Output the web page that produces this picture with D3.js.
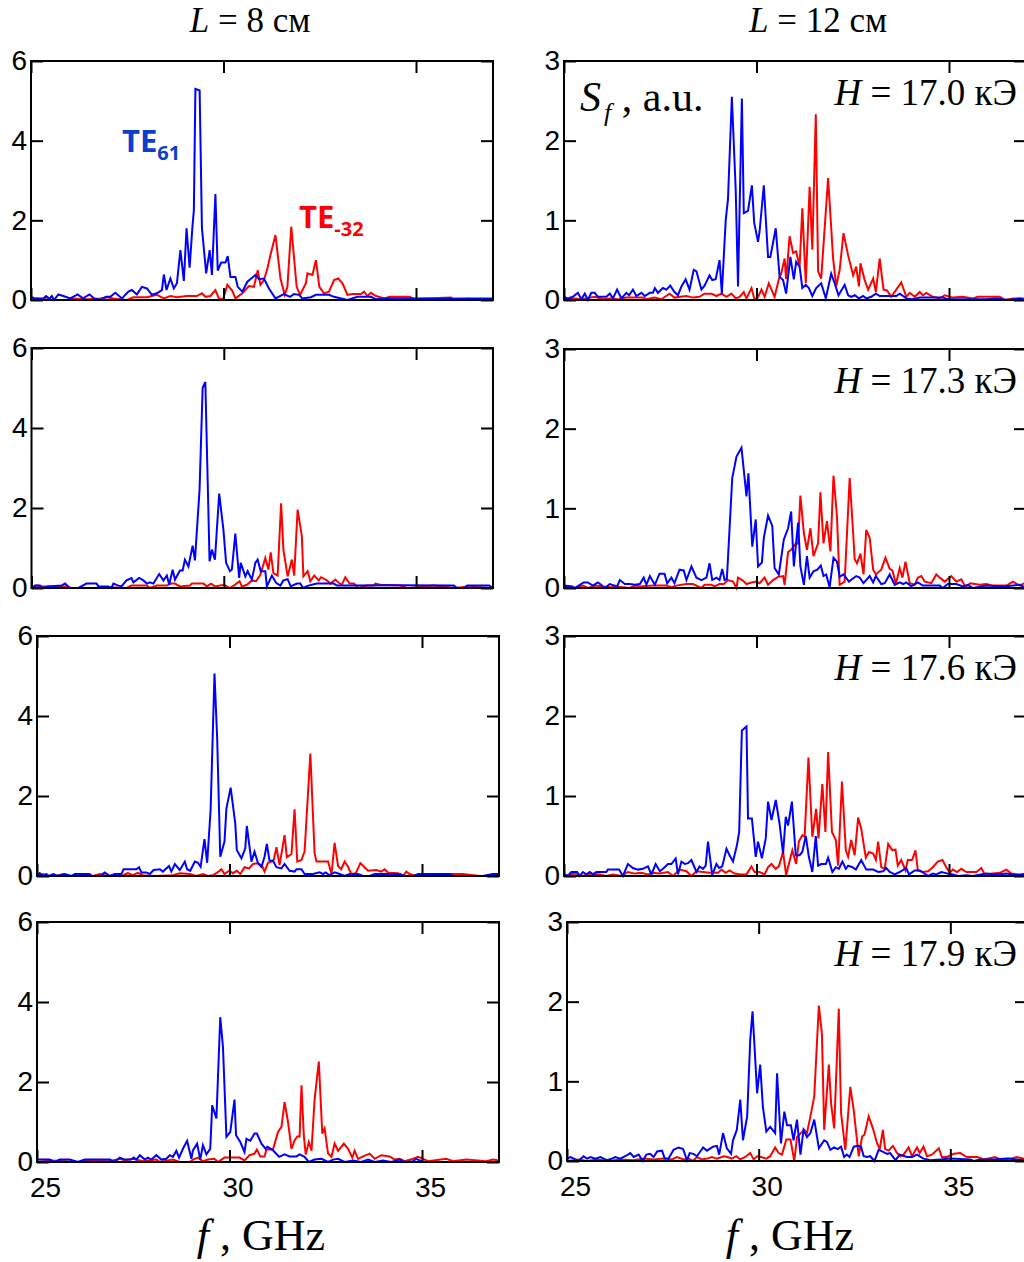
<!DOCTYPE html>
<html><head><meta charset="utf-8">
<script src="https://cdn.jsdelivr.net/npm/d3@7"></script>
<style>body{margin:0;background:#fff}svg{display:block}</style>
</head><body>
<svg id="c" width="1024" height="1262"></svg>
<script>
// ---------- data (frequency GHz, S_f a.u.) ----------
const xTicks = [25, 30, 35];
const yTicksL8 = [0, 2, 4, 6];
const yTicksL12 = [0, 1, 2, 3];
const columnTitles = ["8", "12"];          // L, см
const fieldLabels = ["17.0", "17.3", "17.6", "17.9"]; // H, кЭ

// L = 8 см
const te61_L8_H170 = [[25.0,0.08],[25.1,0.04],[25.32,0.04],[25.39,0.1],[25.48,0.03],[25.54,0.1],[25.6,0],[25.71,0.14],[25.84,0.1],[26.02,0.04],[26.21,0.14],[26.35,0.04],[26.52,0.14],[26.64,0.04],[26.8,0],[26.95,0.08],[27.06,0.08],[27.19,0.18],[27.36,0.04],[27.53,0.21],[27.62,0.25],[27.75,0.14],[27.88,0.33],[28.01,0.29],[28.14,0.13],[28.27,0.17],[28.4,0.25],[28.45,0.64],[28.52,0.25],[28.62,0.54],[28.71,0.29],[28.79,0.42],[28.88,1.25],[28.97,0.48],[29.04,1.8],[29.12,0.81],[29.19,1.8],[29.23,2.25],[29.27,5.3],[29.38,5.26],[29.44,1.8],[29.55,0.67],[29.64,1.25],[29.7,0.63],[29.79,2.66],[29.85,0.74],[29.94,0.94],[30.05,0.94],[30.11,1.1],[30.18,0.58],[30.31,0.58],[30.37,0.33],[30.49,0.21],[30.62,0.46],[30.72,0.54],[30.83,0.63],[30.92,0.52],[31.05,0.54],[31.18,0.29],[31.35,0.04],[31.57,0.15],[31.73,0.08],[31.83,0.15],[31.96,0.13],[32.05,0.04],[32.27,0.07],[32.4,0.13],[32.74,0.13],[32.87,0.08],[33.22,0],[33.48,0.08],[33.83,0.08],[33.96,0.02],[34.26,0.04],[35.0,0.04],[35.48,0.03],[36.35,0.04],[37,0.04]];
const te32_L8_H170 = [[25.0,0],[25.15,0.04],[25.32,0.02],[25.4,0.07],[25.5,0],[25.93,0],[26.1,0.04],[26.45,0.02],[26.8,0.04],[26.97,0.07],[27.14,0.04],[27.49,0],[27.66,0.07],[28.01,0.07],[28.27,0.13],[28.45,0.04],[28.62,0.1],[28.79,0.07],[29.05,0.1],[29.31,0.1],[29.44,0.17],[29.53,0.08],[29.66,0.1],[29.79,0.25],[29.88,0.04],[29.99,0.02],[30.1,0.38],[30.23,0.23],[30.31,0.04],[30.49,0.17],[30.66,0.35],[30.79,0.33],[30.89,0.75],[30.96,0.38],[31.05,0.5],[31.14,0.79],[31.22,1.13],[31.35,1.63],[31.48,0.54],[31.59,0.13],[31.66,0.33],[31.76,1.84],[31.9,0.33],[31.99,0.13],[32.14,0.42],[32.18,0.67],[32.31,0.63],[32.4,1.0],[32.49,0.33],[32.61,0.17],[32.74,0.21],[32.87,0.5],[32.98,0.54],[33.09,0.42],[33.22,0.13],[33.35,0.15],[33.57,0.15],[33.65,0.21],[33.74,0.1],[33.83,0.18],[33.96,0.1],[34.18,0.04],[34.31,0.08],[34.83,0.08],[34.96,0.02],[35.22,0.04],[35.91,0.06],[36.0,0],[36.35,0.03],[37,0]];

const te61_L8_H173 = [[25,0],[25.09,0.06],[25.22,0.06],[25.26,0],[25.43,0.04],[25.78,0.06],[25.87,0.11],[26.0,0],[26.22,0],[26.43,0.11],[26.69,0.11],[26.74,0.04],[27.0,0.04],[27.08,0],[27.13,0.11],[27.26,0.06],[27.34,0.04],[27.47,0.19],[27.6,0.25],[27.65,0.14],[27.8,0.25],[27.91,0.19],[28.0,0.11],[28.08,0.14],[28.17,0.11],[28.32,0.35],[28.43,0.19],[28.52,0.31],[28.58,0.08],[28.67,0.46],[28.73,0.21],[28.86,0.44],[28.93,0.44],[28.99,0.71],[29.08,0.54],[29.19,1.06],[29.25,0.69],[29.37,2.46],[29.45,5.0],[29.52,5.15],[29.63,0.67],[29.69,0.96],[29.77,0.71],[29.88,2.36],[29.99,1.46],[30.06,0.63],[30.16,0.42],[30.21,0.46],[30.3,1.36],[30.4,0.25],[30.44,0.63],[30.56,0.29],[30.62,0.42],[30.73,0.21],[30.82,0.63],[30.88,0.71],[30.96,0.42],[31.08,0.42],[31.12,0.04],[31.25,0.31],[31.36,0.13],[31.47,0.06],[31.55,0.19],[31.66,0.22],[31.74,0.04],[31.9,0.11],[31.99,0.11],[32.06,0],[32.2,0.06],[32.42,0.11],[32.86,0.11],[32.94,0.06],[33.38,0.06],[34.5,0.07],[35.98,0.06],[36.07,0],[36.24,0],[36.33,0.06],[36.9,0.06],[37,0]];
const te32_L8_H173 = [[25,0],[25.13,0.06],[25.3,0.04],[25.91,0.04],[26.04,0],[26.78,0],[27.04,0.02],[27.47,0],[27.6,0.06],[28.0,0.06],[28.08,0],[28.26,0.06],[28.52,0.06],[28.62,0.11],[28.73,0.11],[28.86,0.04],[29.12,0.06],[29.17,0.11],[29.47,0.11],[29.56,0.04],[29.67,0.11],[29.77,0.04],[30.01,0.08],[30.15,0],[30.26,0.06],[30.41,0.17],[30.47,0.04],[30.6,0.08],[30.73,0.19],[30.84,0.17],[30.95,0.33],[31.08,0.75],[31.16,0.46],[31.22,0.89],[31.29,0.37],[31.4,0.31],[31.49,2.12],[31.55,0.96],[31.66,0.29],[31.77,0.71],[31.83,0.31],[31.92,1.96],[32.03,1.29],[32.07,0.29],[32.18,0.42],[32.25,0.17],[32.35,0.31],[32.47,0.19],[32.53,0.27],[32.68,0.19],[32.77,0.11],[32.9,0.21],[32.99,0.13],[33.07,0.08],[33.16,0.27],[33.27,0.11],[33.38,0.11],[33.51,0],[33.72,0.06],[33.9,0.06],[33.94,0.11],[34.07,0.08],[34.59,0.06],[34.77,0],[35.03,0.02],[35.46,0.06],[36.02,0],[36.33,0.04],[37,0]];

const te61_L8_H176 = [[25,0],[25.07,0.07],[25.16,0],[25.24,0.05],[25.31,0],[25.42,0.05],[25.55,0],[25.72,0.05],[25.89,0],[25.98,0.05],[26.37,0.05],[26.41,0],[26.63,0],[26.76,0.09],[26.89,0],[27.02,0.05],[27.19,0.05],[27.25,0.17],[27.58,0.17],[27.65,0.22],[27.71,0.09],[27.84,0.09],[27.93,0.05],[28.03,0.15],[28.19,0.17],[28.27,0.11],[28.43,0.25],[28.49,0.11],[28.58,0.3],[28.71,0.15],[28.84,0.36],[28.9,0.17],[28.98,0.13],[29.1,0.36],[29.18,0.33],[29.25,0.23],[29.35,0.92],[29.42,0.33],[29.51,1.66],[29.61,5.06],[29.68,3.44],[29.76,0.48],[29.87,0.86],[29.92,1.69],[30.03,2.21],[30.15,1.31],[30.19,0.65],[30.31,0.44],[30.41,0.69],[30.45,1.25],[30.57,0.36],[30.65,0.61],[30.74,0.32],[30.83,0.23],[30.91,0.48],[30.97,0.8],[31.04,0.38],[31.13,0.38],[31.22,0.22],[31.35,0.19],[31.43,0.3],[31.56,0.13],[31.69,0.11],[31.74,0.17],[31.87,0.17],[31.95,0.05],[32.17,0.05],[32.34,0.09],[32.43,0.05],[32.5,0.09],[32.6,0.02],[32.73,0.09],[32.86,0.05],[32.99,0],[33.12,0.05],[33.34,0.05],[33.47,0],[33.64,0],[33.77,0.05],[34.42,0.05],[34.55,0],[34.77,0],[34.9,0.05],[35.72,0.05],[35.81,0],[36.58,0],[36.84,0.05],[37,0.05]];
const te32_L8_H176 = [[25,0],[25.16,0.05],[25.29,0],[25.5,0],[25.68,0.05],[25.85,0],[26.11,0],[26.28,0.05],[26.45,0],[26.63,0.05],[26.84,0],[27.23,0.02],[27.36,0.07],[27.49,0.02],[27.62,0.08],[27.75,0.02],[28.1,0],[28.53,0.02],[28.71,0.07],[28.97,0.05],[29.14,0],[29.31,0.05],[29.44,0],[29.57,0.02],[29.66,0.07],[29.79,0.17],[29.87,0.05],[29.99,0.13],[30.09,0.07],[30.19,0.13],[30.28,0.05],[30.39,0.22],[30.51,0.19],[30.61,0.3],[30.74,0.32],[30.85,0.25],[30.91,0.11],[31.0,0.33],[31.09,0.36],[31.15,0.4],[31.22,0.72],[31.3,0.27],[31.43,1.02],[31.49,0.47],[31.61,0.55],[31.69,1.67],[31.76,0.36],[31.87,0.4],[31.95,0.61],[32.1,3.06],[32.21,0.57],[32.26,0.36],[32.56,0.36],[32.65,0.05],[32.73,0.83],[32.82,0.25],[32.9,0.17],[32.99,0.36],[33.08,0.23],[33.16,0.05],[33.28,0.07],[33.4,0.32],[33.51,0.22],[33.6,0.13],[33.81,0.15],[33.94,0.11],[34.03,0.17],[34.12,0.08],[34.38,0.07],[34.51,0],[34.59,0.11],[34.68,0.05],[34.85,0],[35.29,0.05],[35.42,0],[35.55,0.05],[36.07,0.05],[36.5,0],[37,0]];

const te61_L8_H179 = [[25,0.06],[25.33,0.06],[25.46,0],[25.59,0.06],[25.85,0.06],[26.06,0],[26.24,0.06],[26.89,0.06],[27.02,0],[27.15,0.11],[27.28,0.06],[27.45,0.06],[27.51,0.11],[27.58,0.06],[27.67,0.17],[27.8,0.06],[27.88,0.11],[27.97,0.06],[28.1,0.17],[28.23,0.06],[28.36,0.08],[28.45,0.17],[28.53,0.13],[28.62,0.28],[28.69,0.11],[28.79,0.33],[28.9,0.53],[29.01,0.08],[29.05,0.29],[29.16,0.46],[29.24,0.06],[29.31,0.42],[29.4,0.19],[29.5,0.33],[29.55,1.42],[29.66,1.09],[29.76,3.62],[29.83,2.88],[29.92,0.63],[30.02,0.75],[30.13,1.56],[30.17,0.67],[30.28,0.5],[30.39,0.25],[30.44,0.58],[30.54,0.53],[30.65,0.71],[30.71,0.71],[30.83,0.46],[30.94,0.33],[30.98,0.38],[31.11,0.31],[31.17,0.25],[31.29,0.13],[31.43,0.19],[31.56,0.14],[31.74,0.14],[31.82,0.19],[31.95,0.13],[32.06,0],[32.21,0.06],[32.39,0.08],[32.56,0],[32.69,0.06],[32.82,0.08],[32.99,0],[33.21,0.04],[33.42,0],[33.6,0.06],[33.77,0],[33.99,0.04],[34.2,0],[34.42,0.06],[34.55,0],[34.77,0.02],[34.85,0.08],[35.03,0],[37,0]];
const te32_L8_H179 = [[25,0],[25.33,0.04],[25.76,0.02],[26.11,0],[26.28,0.04],[26.89,0.02],[27.15,0.08],[27.28,0.04],[27.49,0.08],[27.75,0.02],[28.1,0.06],[28.19,0],[28.53,0.06],[28.71,0],[28.97,0],[29.05,0.06],[29.18,0.11],[29.31,0.02],[29.44,0.06],[29.61,0.08],[29.7,0],[29.87,0.11],[30.0,0.11],[30.26,0.11],[30.39,0.04],[30.52,0.17],[30.65,0.21],[30.71,0.31],[30.8,0.14],[30.91,0.14],[30.96,0.31],[31.13,0.31],[31.26,0.75],[31.35,0.88],[31.43,1.5],[31.52,1.0],[31.61,0.33],[31.69,0.54],[31.76,0.64],[31.82,0.64],[31.87,1.92],[31.93,0.67],[31.98,0.19],[32.06,0.5],[32.13,0.28],[32.21,1.56],[32.32,2.51],[32.41,0.71],[32.47,0.84],[32.56,0.21],[32.65,0.13],[32.73,0.46],[32.82,0.28],[32.97,0.46],[33.08,0.33],[33.19,0.11],[33.25,0.28],[33.34,0.08],[33.47,0.14],[33.64,0.21],[33.77,0.08],[33.94,0.17],[34.16,0.14],[34.29,0.06],[34.42,0.08],[34.55,0.02],[34.77,0.08],[34.9,0.13],[35.03,0.08],[35.16,0.02],[35.63,0.08],[35.81,0.02],[36.15,0.06],[36.67,0.02],[36.84,0.06],[37,0.04]];

// L = 12 см
const te61_L12_H170 = [[25,0.04],[25.1,0.02],[25.23,0.04],[25.36,0.09],[25.45,0.01],[25.54,0.08],[25.62,0],[25.71,0.09],[25.8,0.09],[25.88,0.04],[26.1,0.04],[26.19,0.08],[26.27,0.02],[26.38,0.13],[26.49,0.02],[26.62,0.09],[26.69,0.06],[26.79,0.13],[26.88,0.05],[27.01,0.09],[27.1,0.05],[27.23,0.09],[27.31,0.09],[27.36,0.15],[27.44,0.09],[27.57,0.15],[27.66,0.13],[27.76,0.18],[27.87,0.1],[27.96,0.06],[28.05,0.17],[28.16,0.26],[28.26,0.13],[28.37,0.38],[28.44,0.36],[28.57,0.13],[28.65,0.18],[28.78,0.31],[28.85,0.25],[28.94,0.26],[29.04,0.5],[29.1,0.08],[29.2,1.0],[29.26,1.27],[29.36,2.55],[29.46,1.38],[29.52,0.17],[29.62,2.53],[29.67,1.09],[29.78,1.12],[29.88,1.44],[29.94,0.97],[30.04,0.73],[30.08,0.86],[30.19,1.44],[30.3,0.54],[30.36,0.54],[30.5,0.9],[30.6,0.29],[30.69,0.25],[30.77,0.08],[30.88,0.54],[30.97,0.26],[31.03,0.48],[31.12,0.42],[31.19,0.15],[31.28,0.19],[31.36,0.15],[31.45,0.05],[31.55,0.15],[31.68,0.21],[31.8,0.02],[31.94,0.33],[32.03,0.21],[32.13,0.06],[32.29,0.19],[32.38,0.06],[32.46,0.04],[32.55,0.06],[32.66,0.02],[32.77,0.05],[32.85,0.02],[32.98,0.04],[33.1,0.08],[33.2,0.05],[33.63,0.05],[33.72,0.08],[33.89,0.02],[34.06,0.01],[34.24,0.03],[34.67,0.03],[34.84,0.03],[34.97,0.01],[35.97,0.01],[36.23,0.02],[36.53,0],[36.84,0.02],[37,0]];
const te32_L12_H170 = [[25,0.02],[25.15,0.01],[25.28,0.02],[25.45,0.01],[25.8,0.04],[26.01,0.01],[26.19,0.02],[26.4,0.01],[26.62,0.03],[27.05,0.03],[27.14,0.01],[27.35,0.03],[27.53,0.01],[27.74,0.08],[27.87,0.03],[28.18,0.05],[28.35,0.03],[28.52,0.04],[28.65,0.08],[28.83,0.08],[28.96,0.05],[29.09,0.08],[29.22,0.04],[29.35,0.08],[29.46,0.02],[29.56,0.04],[29.67,0.1],[29.74,0.02],[29.87,0.15],[29.95,0],[30.04,0.04],[30.13,0.13],[30.21,0.04],[30.32,0.21],[30.47,0.04],[30.58,0.26],[30.64,0.33],[30.73,0.52],[30.77,0.26],[30.86,0.8],[30.95,0.59],[31.03,0.61],[31.12,0.42],[31.19,1.15],[31.28,0.21],[31.38,1.42],[31.45,0.63],[31.54,2.33],[31.6,0.36],[31.68,0.27],[31.86,1.53],[31.99,0.52],[32.07,0.17],[32.16,0.38],[32.26,0.84],[32.38,0.56],[32.51,0.31],[32.59,0.42],[32.66,0.17],[32.7,0.46],[32.81,0.25],[32.9,0.13],[33.03,0.27],[33.1,0.1],[33.2,0.52],[33.3,0.13],[33.39,0.12],[33.5,0.04],[33.63,0.13],[33.76,0.22],[33.89,0.04],[33.98,0.09],[34.11,0.04],[34.24,0.1],[34.32,0.06],[34.41,0.09],[34.58,0.04],[34.76,0.02],[34.89,0.06],[35.1,0.03],[35.36,0.04],[35.62,0.02],[35.75,0.04],[36.32,0.04],[36.45,0],[36.66,0.02],[37,0.02]];

const te61_L12_H173 = [[25,0.03],[25.22,0.02],[25.28,0],[25.51,0.07],[25.62,0.07],[25.75,0.03],[25.88,0.07],[25.94,0.05],[26.06,0],[26.19,0.05],[26.32,0.03],[26.38,0.02],[26.45,0.1],[26.58,0.05],[26.71,0.05],[26.84,0.04],[26.97,0.05],[27.07,0.13],[27.14,0.04],[27.23,0.15],[27.36,0.04],[27.48,0.18],[27.61,0.18],[27.68,0.06],[27.79,0.13],[27.87,0.06],[28.0,0.23],[28.11,0.22],[28.18,0.1],[28.31,0.27],[28.44,0.13],[28.57,0.1],[28.7,0.13],[28.78,0.31],[28.85,0.1],[28.96,0.13],[29.04,0.1],[29.11,0.24],[29.17,0.1],[29.23,0.11],[29.37,1.38],[29.48,1.65],[29.61,1.76],[29.74,1.15],[29.79,1.44],[29.89,0.52],[29.98,0.86],[30.04,0.27],[30.14,0.32],[30.19,0.63],[30.3,0.91],[30.41,0.78],[30.47,0.25],[30.58,0.17],[30.71,0.61],[30.82,0.75],[30.9,0.96],[30.97,0.27],[31.08,0.82],[31.14,0.27],[31.23,0.04],[31.31,0.4],[31.38,0.13],[31.48,0.21],[31.58,0.23],[31.67,0.28],[31.74,0.15],[31.81,0.17],[31.9,0.01],[32.0,0.38],[32.09,0.33],[32.16,0.14],[32.26,0.17],[32.4,0.08],[32.59,0.15],[32.68,0.13],[32.78,0.06],[32.94,0.15],[33.03,0.07],[33.1,0.15],[33.24,0.05],[33.33,0.06],[33.46,0.17],[33.59,0.04],[33.72,0.07],[33.81,0.05],[33.89,0.07],[34.02,0.02],[34.19,0.07],[34.32,0.03],[34.76,0.03],[34.84,0],[34.97,0.05],[35.19,0.05],[35.36,0.02],[35.49,0.04],[35.62,0],[35.97,0.03],[36.4,0.02],[36.84,0.04],[37,0]];
const te32_L12_H173 = [[25,0],[25.1,0.02],[25.28,0],[25.49,0.03],[25.62,0],[25.84,0.03],[26.01,0.02],[26.23,0.01],[26.36,0.02],[26.71,0],[26.84,0.03],[26.97,0.02],[27.31,0.03],[27.66,0.03],[27.79,0.01],[27.92,0.03],[28.18,0.05],[28.35,0.05],[28.57,0],[28.65,0.04],[28.83,0.04],[28.91,0.02],[29.04,0.05],[29.15,0.05],[29.26,0.1],[29.39,0.08],[29.48,0],[29.52,0.13],[29.63,0.1],[29.74,0.05],[29.87,0.07],[29.99,0.08],[30.08,0.06],[30.21,0.13],[30.3,0.04],[30.43,0.1],[30.56,0.14],[30.69,0.15],[30.73,0.04],[30.82,0.45],[30.9,0.48],[31.02,0.56],[31.08,0.56],[31.14,1.16],[31.23,0.69],[31.31,0.48],[31.4,0.75],[31.48,0.4],[31.6,0.56],[31.66,1.2],[31.74,0.56],[31.83,0.84],[31.92,0.46],[32.0,1.41],[32.09,0.9],[32.16,0.04],[32.29,0.08],[32.42,1.38],[32.51,0.69],[32.55,0.36],[32.61,0.31],[32.7,0.43],[32.78,0.17],[32.85,0.73],[32.94,0.63],[33.03,0.23],[33.1,0.17],[33.24,0.23],[33.35,0.38],[33.46,0.24],[33.53,0.22],[33.62,0.05],[33.72,0.25],[33.79,0.13],[33.87,0.33],[33.98,0.06],[34.11,0.04],[34.19,0.13],[34.28,0.15],[34.37,0.08],[34.54,0.06],[34.67,0.17],[34.76,0.13],[34.89,0.08],[35.06,0.15],[35.19,0.08],[35.32,0.11],[35.43,0.01],[35.55,0.06],[35.8,0.04],[35.97,0.05],[36.14,0.03],[36.49,0.03],[36.66,0.08],[36.84,0.03],[37,0.07]];

const te61_L12_H176 = [[25,0.02],[25.1,0],[25.19,0.05],[25.34,0.05],[25.41,0],[25.49,0.05],[25.58,0.02],[25.67,0.05],[25.75,0.02],[25.84,0.05],[26.1,0.05],[26.14,0.08],[26.43,0.08],[26.53,0],[26.66,0.15],[26.79,0.1],[26.92,0.08],[27.05,0.09],[27.18,0.12],[27.27,0.02],[27.38,0.15],[27.49,0.06],[27.57,0.09],[27.7,0.15],[27.79,0.15],[27.9,0.22],[27.96,0.02],[28.05,0.18],[28.14,0.15],[28.22,0.16],[28.31,0.2],[28.44,0.05],[28.52,0.12],[28.61,0.09],[28.68,0.13],[28.74,0.43],[28.85,0.01],[28.96,0.15],[29.03,0.1],[29.11,0.12],[29.22,0.34],[29.3,0.26],[29.39,0.18],[29.49,0.38],[29.55,0.55],[29.62,1.82],[29.74,1.87],[29.78,0.72],[29.88,0.72],[29.98,0.24],[30.04,0.43],[30.14,0.22],[30.24,0.47],[30.3,0.93],[30.39,0.7],[30.5,0.95],[30.6,0.65],[30.69,0.28],[30.76,0.74],[30.82,0.63],[30.92,0.93],[31.02,0.26],[31.12,0.26],[31.19,0.3],[31.28,0.5],[31.36,0.24],[31.45,0.05],[31.54,0.5],[31.6,0.13],[31.68,0.15],[31.8,0.15],[31.86,0.23],[31.97,0.05],[32.06,0.11],[32.14,0.09],[32.23,0.18],[32.32,0.09],[32.38,0.13],[32.49,0.11],[32.58,0.08],[32.72,0.2],[32.85,0.08],[33.03,0.08],[33.16,0.05],[33.29,0.06],[33.37,0.1],[33.46,0.05],[33.59,0.02],[33.72,0.05],[33.89,0.1],[33.96,0.02],[34.11,0.07],[34.24,0.07],[34.46,0],[34.58,0.03],[34.67,0.02],[34.8,0.05],[34.97,0.03],[35.1,0.02],[35.23,0],[35.45,0.01],[35.62,0],[35.97,0.03],[36.23,0.02],[36.49,0.03],[36.75,0.01],[37,0.03]];
const te32_L12_H176 = [[25,0],[25.15,0.02],[25.32,0.03],[25.49,0],[25.67,0.03],[25.93,0.02],[26.1,0],[26.27,0.02],[26.49,0],[26.66,0.05],[26.84,0.03],[27.01,0.04],[27.18,0.02],[27.31,0.04],[27.48,0.03],[27.7,0.05],[27.83,0],[28.0,0.08],[28.18,0.06],[28.31,0],[28.44,0.06],[28.61,0.05],[28.78,0.04],[28.91,0.04],[29.0,0.04],[29.09,0.08],[29.2,0.04],[29.3,0.07],[29.43,0.03],[29.61,0.02],[29.74,0.02],[29.87,0.12],[29.95,0.05],[30.08,0.05],[30.21,0.02],[30.3,0.11],[30.39,0.15],[30.5,0.09],[30.58,0.12],[30.69,0.3],[30.77,0.01],[30.84,0.15],[30.93,0.32],[31.03,0.15],[31.1,0.43],[31.19,0.51],[31.25,0.49],[31.35,1.48],[31.45,0.49],[31.55,0.84],[31.61,0.47],[31.71,1.15],[31.79,0.55],[31.86,1.55],[31.96,0.55],[32.06,0.45],[32.12,0.13],[32.22,1.18],[32.32,0.32],[32.38,0.24],[32.46,0.45],[32.55,0.26],[32.64,0.73],[32.72,0.59],[32.84,0.23],[32.92,0.3],[33.03,0.28],[33.1,0.2],[33.16,0.43],[33.24,0.11],[33.33,0.09],[33.42,0.4],[33.53,0.32],[33.61,0.33],[33.67,0.13],[33.76,0.2],[33.87,0.07],[33.93,0.2],[34.04,0.2],[34.13,0.32],[34.19,0.07],[34.32,0.05],[34.46,0.06],[34.58,0.11],[34.71,0.18],[34.83,0.2],[34.93,0.11],[35.02,0.04],[35.1,0.08],[35.21,0.05],[35.32,0.09],[35.45,0.05],[35.71,0.05],[35.84,0.1],[35.93,0.02],[36.14,0.03],[36.32,0.04],[36.49,0.08],[36.62,0.03],[36.8,0.02],[37,0.01]];

const te61_L12_H179 = [[25,0.03],[25.09,0.05],[25.22,0.02],[25.3,0],[25.43,0.06],[25.52,0.03],[25.61,0.05],[25.74,0.03],[25.87,0.05],[26.04,0.01],[26.17,0.03],[26.26,0.05],[26.39,0.03],[26.52,0.06],[26.65,0.1],[26.74,0.05],[26.87,0.08],[26.98,0],[27.07,0.08],[27.17,0.09],[27.26,0.05],[27.35,0.12],[27.48,0.13],[27.55,0.03],[27.65,0.03],[27.78,0.14],[27.91,0.17],[28.03,0.15],[28.13,0.01],[28.2,0.1],[28.3,0.09],[28.39,0.06],[28.55,0.17],[28.65,0.13],[28.81,0.18],[28.91,0.19],[28.97,0.08],[29.07,0.35],[29.17,0.16],[29.28,0.09],[29.33,0.26],[29.43,0.39],[29.52,0.77],[29.59,0.26],[29.7,0.56],[29.78,1.52],[29.84,1.88],[29.96,0.85],[30.04,1.21],[30.11,0.68],[30.2,0.37],[30.3,0.43],[30.43,0.35],[30.48,1.1],[30.58,0.22],[30.67,0.62],[30.74,0.45],[30.84,0.45],[30.91,0.26],[31.0,0.52],[31.09,0.08],[31.17,0.39],[31.26,0.3],[31.35,0.35],[31.45,0.52],[31.57,0.16],[31.71,0.26],[31.78,0.24],[31.87,0.14],[31.97,0.17],[32.06,0.15],[32.15,0.18],[32.23,0.05],[32.3,0.08],[32.37,0.05],[32.48,0.18],[32.58,0.19],[32.67,0.18],[32.74,0.06],[32.83,0.05],[32.91,0.06],[33.02,0],[33.13,0.14],[33.22,0.12],[33.35,0.09],[33.43,0.1],[33.57,0.01],[33.68,0.08],[33.87,0.05],[34.0,0.05],[34.13,0.08],[34.3,0.03],[34.48,0.01],[34.74,0.02],[35.0,0.03],[35.52,0.02],[35.61,0],[35.78,0.02],[36.13,0.02],[36.48,0.03],[36.74,0.02],[37,0.01]];
const te32_L12_H179 = [[25,0],[25.17,0.01],[25.3,0.02],[25.52,0],[25.78,0.02],[26.09,0],[26.39,0.02],[26.74,0.01],[27.0,0.03],[27.26,0.02],[27.52,0.03],[27.74,0.02],[27.87,0.05],[28.04,0.02],[28.17,0.03],[28.29,0],[28.39,0.05],[28.52,0.02],[28.65,0.03],[28.78,0.05],[28.91,0.03],[29.09,0.06],[29.19,0.05],[29.3,0.03],[29.42,0.06],[29.52,0.02],[29.65,0.05],[29.78,0.1],[29.87,0.02],[29.96,0.06],[30.06,0.05],[30.2,0.03],[30.3,0.06],[30.43,0.17],[30.52,0.1],[30.61,0.08],[30.72,0.27],[30.83,0.27],[30.93,0],[31.0,0.3],[31.1,0.35],[31.19,0.39],[31.26,0.35],[31.35,0.56],[31.45,0.81],[31.57,1.95],[31.65,1.6],[31.71,0.39],[31.83,1.21],[31.89,0.72],[31.97,0.41],[32.09,1.91],[32.15,0.6],[32.26,0.14],[32.39,0.93],[32.48,0.64],[32.61,0.06],[32.7,0.31],[32.76,0.33],[32.87,0.56],[32.98,0.41],[33.09,0.22],[33.16,0.15],[33.24,0.39],[33.3,0.15],[33.39,0.13],[33.5,0.19],[33.61,0.1],[33.7,0.06],[33.78,0.08],[33.91,0.17],[34.0,0.06],[34.13,0.17],[34.2,0.1],[34.3,0.18],[34.39,0.06],[34.52,0.08],[34.7,0.16],[34.78,0.05],[34.91,0.05],[35.09,0.09],[35.26,0.1],[35.43,0.05],[35.7,0.05],[35.87,0.02],[36.17,0.05],[36.3,0.02],[36.57,0.03],[36.74,0.05],[37,0.02]];

// ---------- layout ----------
const panels = [
  {col:0,row:0,x0:31,  x1:493, y0:61, y1:300, ymax:6, yt:yTicksL8,  b:te61_L8_H170,  r:te32_L8_H170},
  {col:0,row:1,x0:31.5,x1:493, y0:348,y1:588, ymax:6, yt:yTicksL8,  b:te61_L8_H173,  r:te32_L8_H173},
  {col:0,row:2,x0:37,  x1:499, y0:636,y1:876, ymax:6, yt:yTicksL8,  b:te61_L8_H176,  r:te32_L8_H176},
  {col:0,row:3,x0:37,  x1:499, y0:922,y1:1162,ymax:6, yt:yTicksL8,  b:te61_L8_H179,  r:te32_L8_H179},
  {col:1,row:0,x0:564, x1:1026,y0:61, y1:300, ymax:3, yt:yTicksL12, b:te61_L12_H170, r:te32_L12_H170},
  {col:1,row:1,x0:564, x1:1026,y0:349,y1:588, ymax:3, yt:yTicksL12, b:te61_L12_H173, r:te32_L12_H173},
  {col:1,row:2,x0:564, x1:1026,y0:636,y1:876, ymax:3, yt:yTicksL12, b:te61_L12_H176, r:te32_L12_H176},
  {col:1,row:3,x0:567, x1:1027,y0:922,y1:1161,ymax:3, yt:yTicksL12, b:te61_L12_H179, r:te32_L12_H179}
];

const svg = d3.select('#c');
const SANS = '"Liberation Sans", Arial, sans-serif';
const SERIF = '"Liberation Serif", "Times New Roman", serif';

function styleAxis(g){
  g.select('.domain').remove();
  g.selectAll('.tick line').attr('stroke','#000').attr('stroke-width',2);
  g.selectAll('text').attr('fill','#000').style('font-family',SANS).style('font-size','28px');
}

panels.forEach(p => {
  const x = d3.scaleLinear().domain([25,37]).range([p.x0,p.x1]);
  const y = d3.scaleLinear().domain([0,p.ymax]).range([p.y1,p.y0]);
  const g = svg.append('g');
  const line = d3.line().x(d => x(d[0])).y(d => y(d[1]));

  g.append('path').datum(p.r).attr('d',line).attr('fill','none')
    .attr('stroke','#ff0000').attr('stroke-width',2).attr('stroke-linejoin','miter');
  g.append('path').datum(p.b).attr('d',line).attr('fill','none')
    .attr('stroke','#0000ff').attr('stroke-width',2).attr('stroke-linejoin','miter');

  g.append('g').attr('transform',`translate(${p.x0},0)`)
    .call(d3.axisLeft(y).tickValues(p.yt).tickSize(-12).tickPadding(4).tickFormat(d3.format('d')))
    .call(styleAxis);
  g.append('g').attr('transform',`translate(${p.x1},0)`)
    .call(d3.axisRight(y).tickValues(p.yt).tickSize(-12).tickFormat(''))
    .call(styleAxis);
  g.append('g').attr('transform',`translate(0,${p.y0})`)
    .call(d3.axisTop(x).tickValues(xTicks).tickSize(-12).tickFormat(''))
    .call(styleAxis);
  const bx = g.append('g').attr('transform',`translate(0,${p.y1})`)
    .call(d3.axisBottom(x).tickValues(xTicks).tickSize(-12).tickPadding(15)
      .tickFormat(p.row === 3 ? d3.format('d') : ''))
    .call(styleAxis);
  bx.selectAll('text').attr('dx',8);

  g.append('rect').attr('x',p.x0).attr('y',p.y0).attr('width',p.x1-p.x0).attr('height',p.y1-p.y0)
    .attr('fill','none').attr('stroke','#000').attr('stroke-width',2);

  if (p.col === 1) {
    const t = g.append('text').attr('x',1017).attr('y',p.y0+44).attr('text-anchor','end')
      .style('font-family',SERIF).style('font-size','37px').attr('fill','#000');
    t.append('tspan').style('font-style','italic').text('H');
    t.append('tspan').text(' = ' + fieldLabels[p.row] + ' кЭ');
  }
});

// column titles
[[250, columnTitles[0]],[818, columnTitles[1]]].forEach(([cx,v]) => {
  const t = svg.append('text').attr('x',cx).attr('y',32).attr('text-anchor','middle')
    .style('font-family',SERIF).style('font-size','35px').attr('fill','#000');
  t.append('tspan').style('font-style','italic').text('L');
  t.append('tspan').text(' = ' + v + ' см');
});

// x-axis titles
[261, 790].forEach(cx => {
  const t = svg.append('text').attr('x',cx).attr('y',1250).attr('text-anchor','middle')
    .style('font-family',SERIF).style('font-size','44px').attr('fill','#000');
  t.append('tspan').style('font-style','italic').text('f');
  t.append('tspan').text(' , GHz');
});

// S_f label
{
  const t = svg.append('text').attr('x',580).attr('y',111)
    .style('font-family',SERIF).style('font-size','42px').attr('fill','#000');
  t.append('tspan').style('font-style','italic').text('S');
  t.append('tspan').style('font-style','italic').style('font-size','26px').attr('dx',3).attr('dy',10).text('f');
  t.append('tspan').attr('dy',-10).text(' , a.u.');
}

// mode labels
function modeLabel(x0, yb, sub, color){
  const t = svg.append('text').attr('x',x0).attr('y',yb)
    .style('font-family','"Open Sans", Lato, sans-serif').style('font-weight','bold')
    .style('font-size','31px').attr('fill',color);
  t.append('tspan').text('TE');
  t.append('tspan').style('font-size','20px').attr('dy',8).text(sub);
}
modeLabel(122, 152, '61', '#0a3fcc');
modeLabel(299, 228, '-32', '#ff0000');
</script>
</body></html>
